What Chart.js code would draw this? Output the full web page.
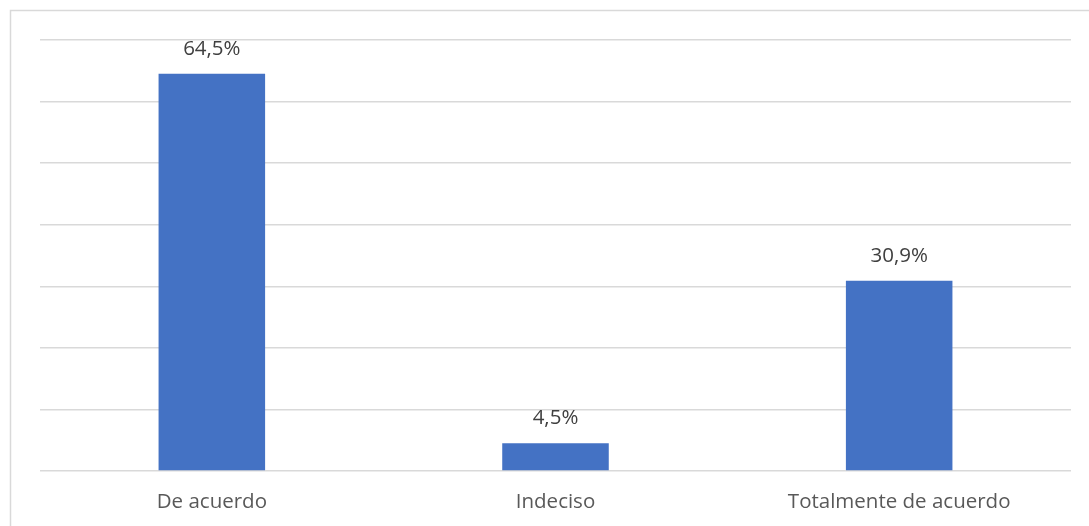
<!DOCTYPE html>
<html lang="es">
<head>
  <meta charset="UTF-8" />
  <title>De acuerdo / Indeciso / Totalmente de acuerdo</title>
  <script src="https://cdn.jsdelivr.net/npm/chart.js"></script>
  <style>
    html, body { margin: 0; padding: 0; background: #fff; overflow: hidden; }
    #wrap { position: relative; width: 1089px; height: 526px; }
  </style>
</head>
<body>
  <div id="wrap"><canvas id="grafico" width="1089" height="526"></canvas></div>
  <script>
    const categorias = ["De acuerdo", "Indeciso", "Totalmente de acuerdo"];
    const valores = [64.5, 4.5, 30.9];
    const etiquetas = ["64,5%", "4,5%", "30,9%"];

    const fuente = "'Open Sans', sans-serif";
    const gris = "#595959";

    // marco exterior del gráfico
    const marco = {
      id: "marco",
      beforeDraw(chart) {
        const ctx = chart.ctx;
        ctx.save();
        ctx.strokeStyle = "#d9d9d9";
        ctx.lineWidth = 1.5;
        ctx.strokeRect(10.5, 10.5, 1200, 700);
        ctx.restore();
      }
    };

    // etiquetas de valor encima de cada barra
    const etiquetasValor = {
      id: "etiquetasValor",
      afterDatasetsDraw(chart) {
        const ctx = chart.ctx;
        const meta = chart.getDatasetMeta(0);
        ctx.save();
        ctx.fillStyle = "#404040";
        ctx.font = "20.5px " + fuente;
        ctx.textAlign = "center";
        ctx.textBaseline = "middle";
        meta.data.forEach((bar, i) => {
          ctx.fillText(etiquetas[i], bar.x, bar.y - 25);
        });
        ctx.restore();
      }
    };

    new Chart(document.getElementById("grafico"), {
      type: "bar",
      data: {
        labels: categorias,
        datasets: [{
          data: valores,
          backgroundColor: "#4472c4",
          categoryPercentage: 1,
          barPercentage: 0.31
        }]
      },
      options: {
        responsive: false,
        animation: false,
        layout: { padding: { left: 40, right: 18, top: 40, bottom: 0 } },
        plugins: { legend: { display: false }, tooltip: { enabled: false } },
        scales: {
          x: {
            grid: { display: false, drawTicks: false },
            border: { display: false },
            ticks: { color: gris, font: { family: fuente, size: 20.5 }, padding: 19 },
            afterFit(s) { s.height = 55; }
          },
          y: {
            min: 0, max: 70,
            ticks: { display: false, stepSize: 10 },
            grid: { color: "#d9d9d9", lineWidth: 1.5, drawTicks: false },
            border: { display: false },
            afterFit(s) { s.width = 0; }
          }
        }
      },
      plugins: [marco, etiquetasValor]
    });
  </script>
</body>
</html>
